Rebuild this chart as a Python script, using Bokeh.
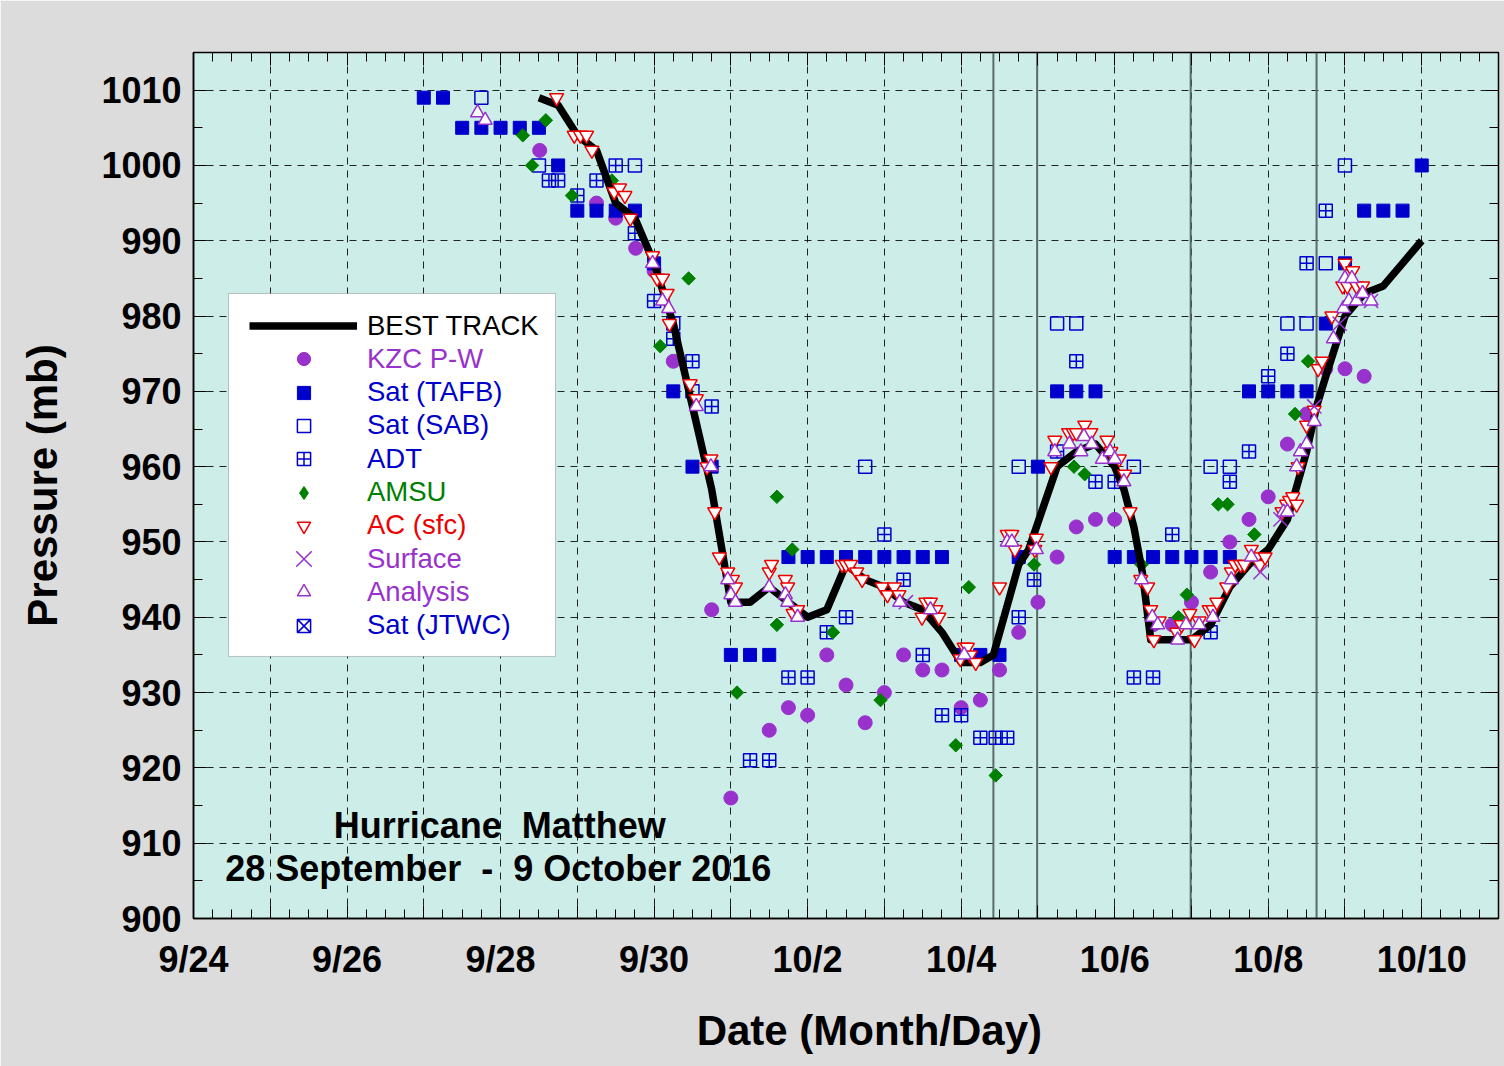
from bokeh.plotting import figure
from bokeh.models import (FixedTicker, LinearAxis, Legend, LegendItem, Label,
                          Span, BoxAnnotation, CustomLabelingPolicy)
from bokeh.embed import file_html
from bokeh.resources import INLINE
import math

NAN = float("nan")

# ---------------- data (x = days since 24 Sep 2016 00 UTC, y = pressure mb) -------------
BT_DAY = [4.5, 4.75, 5.0, 5.25, 5.5, 5.75, 6.0, 6.25, 6.5, 6.75, 7.0, 7.25, 7.5, 7.75,
          8.0, 8.25, 8.5, 8.75, 9.0, 9.25, 9.5, 9.75, 10.0, 10.25, 10.42, 10.75, 10.88,
          11.25, 11.5, 11.75, 12.0, 12.12, 12.25, 12.36, 12.47, 12.75, 13.0, 13.25, 13.5,
          13.75, 14.0, 14.25, 14.5, 14.63, 14.75, 15.0, 15.25, 15.5, 15.75, 16.0]
BT_P = [1009, 1008, 1004, 1002, 995, 993, 987, 979, 968, 957, 942, 942, 944, 942,
        940, 941, 947, 945, 944, 942, 941, 938, 934, 934, 935, 947, 949,
        960, 962, 963, 960, 957, 952, 946, 937, 937, 937, 939, 944,
        947, 949, 953, 962, 968, 972, 980, 983, 984, 987, 990]

KZC_DAY = [4.51, 5.25, 5.5, 5.76, 6.0, 6.25, 6.75, 7.0, 7.5, 7.75, 8.0, 8.25, 8.5, 8.75,
           9.0, 9.25, 9.5, 9.75, 10.0, 10.25, 10.5, 10.75, 11.0, 11.25, 11.5, 11.75, 12.0,
           12.5, 12.75, 13.0, 13.25, 13.5, 13.75, 14.0, 14.25, 14.5, 14.75, 15.0, 15.25]
KZC_P = [1002, 995, 993, 989, 986, 974, 941, 916, 925, 928, 927, 935, 931, 926,
         930, 935, 933, 933, 928, 929, 933, 938, 942, 948, 952, 953, 953,
         939, 939, 942, 946, 950, 953, 956, 963, 967, 973, 973, 972]

TAFB_DAY = [3.0, 3.25, 3.5, 3.75, 4.0, 4.25, 4.5, 4.75, 5.0, 5.25, 5.5, 5.75, 6.0, 6.25,
            6.5, 6.75, 7.0, 7.25, 7.5, 7.75, 8.0, 8.25, 8.5, 8.75, 9.0, 9.25, 9.5, 9.75,
            10.0, 10.25, 10.5, 10.75, 11.0, 11.25, 11.5, 11.75, 12.0, 12.25, 12.5, 12.75,
            13.0, 13.25, 13.5, 13.75, 14.0, 14.25, 14.5, 14.75, 15.0, 15.25, 15.5, 15.75, 16.0]
TAFB_P = [1009, 1009, 1005, 1005, 1005, 1005, 1005, 1000, 994, 994, 994, 994, 987, 970,
          960, 960, 935, 935, 935, 948, 948, 948, 948, 948, 948, 948, 948, 948,
          935, 935, 935, 948, 960, 970, 970, 970, 948, 948, 948, 948,
          948, 948, 948, 970, 970, 970, 970, 979, 987, 994, 994, 994, 1000]

SAB_DAY = [3.75, 4.5, 5.75, 6.25, 6.5, 8.75, 10.75, 11.25, 11.5, 12.25, 13.25, 13.5,
           14.25, 14.5, 14.75, 15.0]
SAB_P = [1009, 1000, 1000, 979, 970, 960, 960, 979, 979, 960, 960, 960,
         979, 979, 987, 1000]

ADT_DAY = [4.63, 4.75, 5.0, 5.25, 5.5, 5.75, 6.0, 6.25, 6.5, 6.75, 7.25, 7.5, 7.75, 8.0,
           8.25, 8.5, 9.0, 9.25, 9.5, 9.75, 10.0, 10.25, 10.45, 10.6, 10.75, 10.95, 11.25,
           11.5, 11.75, 12.0, 12.25, 12.5, 12.75, 13.25, 13.5, 13.75, 14.0, 14.25, 14.5, 14.75]
ADT_P = [998, 998, 996, 998, 1000, 991, 982, 977, 974, 968, 921, 921, 932, 932,
         938, 940, 951, 945, 935, 927, 927, 924, 924, 924, 940, 945, 962,
         974, 958, 958, 932, 932, 951, 938, 958, 962, 972, 975, 987, 994]

AMSU_DAY = [4.29, 4.41, 4.59, 4.93, 5.45, 6.08, 6.45, 7.08, 7.6, 7.6, 7.8, 8.33, 8.95, 9.93,
            10.1, 10.45, 10.95, 11.47, 11.61, 12.35, 12.83, 12.94, 13.35, 13.47, 13.82,
            14.35, 14.52]
AMSU_P = [1004, 1000, 1006, 996, 998, 976, 985, 930, 956, 939, 949, 938, 929, 923,
          944, 919, 947, 960, 959, 947, 940, 943, 955, 955, 951,
          967, 974]

AC_DAY = [4.73, 4.96, 5.04, 5.12, 5.19, 5.48, 5.55, 5.62, 5.69, 5.98, 6.04, 6.11, 6.17, 6.2,
          6.47, 6.55, 6.69, 6.74, 6.79, 6.85, 6.96, 7.02, 7.06, 7.5, 7.53, 7.71, 7.74, 7.81,
          7.87, 8.45, 8.5, 8.56, 8.64, 8.71, 8.97, 9.04, 9.13, 9.19, 9.49, 9.54, 9.6, 9.67,
          9.71, 9.99, 10.04, 10.08, 10.12, 10.19, 10.5, 10.6, 10.66, 10.7, 10.96, 10.98,
          11.17, 11.22, 11.4, 11.46, 11.5, 11.61, 11.69, 11.9, 11.95, 12.06, 12.13, 12.2,
          12.34, 12.43, 12.47, 12.51, 12.58, 12.81, 12.87, 12.98, 13.04, 13.1, 13.23, 13.28,
          13.33, 13.46, 13.52, 13.57, 13.64, 13.69, 13.78, 13.85, 13.89, 13.96, 14.18, 14.24,
          14.28, 14.32, 14.37, 14.39, 14.5, 14.6, 14.65, 14.7, 14.83, 14.97, 15.0, 15.03,
          15.1, 15.15, 15.23]
AC_P = [1009, 1004, 1004, 1004, 1002, 996.5, 997, 996, 993, 988, 985, 985, 983, 979,
        971, 969, 960, 961, 954, 948, 946, 945, 944, 946, 947, 945, 944, 940.5,
        941, 947, 947, 947, 946, 945, 944, 943, 944, 943, 940, 942, 942, 941,
        940, 934.5, 936, 936, 935, 934, 944, 951, 951, 949, 949, 950.5,
        960, 963.5, 964.5, 964.5, 964.5, 965.5, 964.5, 963.5, 962, 961, 959, 954,
        945, 944, 941, 937, 939.5, 938, 939, 940.5, 937, 939.5, 941, 941,
        942, 944, 946, 947, 947, 947, 949, 948, 947, 948, 954, 955,
        955.5, 956, 955, 960, 965.5, 967.5, 973, 974, 980, 984, 987, 984,
        986, 984, 984]

SURF_DAY = [9.28, 13.9, 14.16, 14.6, 14.93, 15.34]
SURF_P = [942, 946, 953, 968, 979, 982]

ANAL_DAY = [3.7, 3.8, 5.98, 6.11, 6.19, 6.55, 6.74, 6.96, 7.0, 7.06, 7.5, 7.71, 7.74, 7.87,
            9.2, 9.6, 10.04, 10.6, 10.66, 10.98, 11.22, 11.41, 11.56, 11.6, 11.7, 11.84,
            11.94, 12.0, 12.12, 12.35, 12.49, 12.56, 12.82, 12.93, 13.1, 13.28, 13.52, 13.78,
            14.2, 14.25, 14.37, 14.42, 14.5, 14.6, 14.85, 14.98, 15.0, 15.05, 15.09, 15.15,
            15.23, 15.34]
ANAL_P = [1007, 1006, 987, 982, 981, 968, 960, 945, 943, 942, 944, 943, 942, 940,
          942, 941, 935, 950, 950, 949, 962, 963, 962, 964, 963, 961,
          962, 961, 958, 945, 940, 939, 937, 939, 939, 940, 945, 948,
          954, 954, 960, 962, 963, 966, 977, 981, 985, 982, 985, 982,
          983, 982]

JTWC_DAY = [NAN]   # no JTWC fixes visible in the chart
JTWC_P = [NAN]

LANDFALL_DAY = [10.42, 10.99, 12.99, 14.63]

X_MAJOR = list(range(0, 18))
XTICK_DAYS = [0, 2, 4, 6, 8, 10, 12, 14, 16]
XTICK_LABELS = ["9/24", "9/26", "9/28", "9/30", "10/2", "10/4", "10/6", "10/8", "10/10"]
Y_TICKS = list(range(900, 1011, 10))

NB = "\u00a0"
TITLE_1 = "Hurricane" + NB + NB + "Matthew"
TITLE_2 = "28 September" + NB + NB + "-" + NB + NB + "9 October 2016"
X_TITLE = NB * 4 + "Date (Month/Day)"   # leading spaces shift the centred title right
Y_TITLE = "Pressure (mb)"

# ---------------- styling ----------------
FONT = "Liberation Sans"
BLUE = "#0000CD"
PURPLE = "#9932CC"
GREEN = "#008000"
RED = "#EE0000"

p = figure(width=1504, height=1066, x_range=(0, 17), y_range=(900, 1015),
           output_backend="svg", toolbar_location=None,
           min_border_left=193, min_border_right=6, min_border_top=52,
           min_border_bottom=148)
p.background_fill_color = "#CCEDE8"
p.border_fill_color = "#DCDCDC"
p.outline_line_color = "black"
p.outline_line_width = 1.5

xticker = FixedTicker(ticks=X_MAJOR, minor_ticks=[i * 0.25 for i in range(0, 69)])
yticker = FixedTicker(ticks=Y_TICKS, minor_ticks=list(range(900, 1016, 5)))

overrides = {d: "" for d in X_MAJOR}
for d, lab in zip(XTICK_DAYS, XTICK_LABELS):
    overrides[d] = lab

xa = p.xaxis[0]
xa.ticker = xticker
xa.major_label_overrides = overrides
ya = p.yaxis[0]
ya.ticker = yticker

for ax in (xa, ya):
    ax.major_tick_in = 13
    ax.major_tick_out = 0
    ax.minor_tick_in = 9
    ax.minor_tick_out = 0
    ax.major_tick_line_color = "black"
    ax.minor_tick_line_color = "black"
    ax.axis_line_color = "black"
    ax.axis_line_width = 1.5
    ax.major_label_text_font = FONT
    ax.major_label_text_font_style = "bold"
    ax.major_label_text_font_size = "36px"
    ax.major_label_text_color = "black"
    ax.axis_label_text_font = FONT
    ax.axis_label_text_font_style = "bold"
    ax.axis_label_text_font_size = "42px"
    ax.axis_label_text_color = "black"

xa.axis_label = X_TITLE
xa.major_label_standoff = 20
xa.axis_label_standoff = 24
ya.axis_label = Y_TITLE
ya.major_label_standoff = 12
ya.axis_label_standoff = 32

no_labels = CustomLabelingPolicy(code="for (const i of indices) indices.unset(i)")
for tk, place in ((xticker, "above"), (yticker, "right")):
    ax = LinearAxis(ticker=tk, major_label_policy=no_labels, major_tick_in=13,
                    major_tick_out=0, minor_tick_in=9, minor_tick_out=0,
                    major_label_standoff=0, major_label_text_font_size="1px",
                    axis_line_color="black")
    p.add_layout(ax, place)

for g, tk in ((p.xgrid[0], xticker), (p.ygrid[0], yticker)):
    g.ticker = tk
    g.grid_line_color = "black"
    g.grid_line_dash = "7 6"
    g.grid_line_width = 1
    g.grid_line_alpha = 0.85

for d in LANDFALL_DAY:
    p.add_layout(Span(location=d, dimension="height", line_color="#5a6a68",
                      line_width=2, level="underlay"))

r_kzc = p.scatter(KZC_DAY, KZC_P, marker="circle", size=14, fill_color=PURPLE,
                  line_color=PURPLE)
r_tafb = p.scatter(TAFB_DAY, TAFB_P, marker="square", size=13, fill_color=BLUE,
                   line_color=BLUE)
r_sab = p.scatter(SAB_DAY, SAB_P, marker="square", size=13, fill_color=None,
                  line_color=BLUE, line_width=1.5)
r_adt = p.scatter(ADT_DAY, ADT_P, marker="square_cross", size=13, fill_color=None,
                  line_color=BLUE, line_width=1.5)
r_amsu = p.scatter(AMSU_DAY, AMSU_P, marker="square", size=9.5, angle=math.pi / 4,
                   fill_color=GREEN, line_color=GREEN)
# symbol used only for the legend row of AMSU (no data points)
r_amsu_key = p.scatter([NAN], [NAN], marker="diamond", size=14, fill_color=GREEN,
                       line_color=GREEN)
r_bt = p.line(BT_DAY, BT_P, line_width=7.5, line_color="black", line_join="round")
r_ac = p.scatter(AC_DAY, AC_P, marker="inverted_triangle", size=14, fill_color="white",
                 line_color=RED, line_width=1.5)
r_surf = p.scatter(SURF_DAY, SURF_P, marker="x", size=20, line_color=PURPLE, line_width=1.5)
r_anal = p.scatter(ANAL_DAY, ANAL_P, marker="triangle", size=14, fill_color="white",
                   line_color=PURPLE, line_width=1.5)
r_jtwc = p.scatter(JTWC_DAY, JTWC_P, marker="square_x", size=13, fill_color=None,
                   line_color=BLUE, line_width=1.5)

# legend box, in data units (frame: left 193 px, 76.76 px/day; top 52 px, 7.53 px/mb)
p.add_layout(BoxAnnotation(left=0.456, right=4.716, top=983.0, bottom=934.8,
                           fill_color="white", fill_alpha=1.0,
                           line_color="#444444", line_width=1, level="annotation"))

FRAME_L, FRAME_B = 193, 918
LEG_ROWS = [
    ("BEST TRACK", r_bt, "black", None, 33),
    ("KZC P-W", r_kzc, PURPLE, 33, 33),
    ("Sat (TAFB)", r_tafb, BLUE, 33, 33),
    ("Sat (SAB)", r_sab, BLUE, 33, 33),
    ("ADT", r_adt, BLUE, 33, 33),
    ("AMSU", r_amsu_key, GREEN, 33, 33),
    ("AC (sfc)", r_ac, RED, 33, 33),
    ("Surface", r_surf, PURPLE, 55, 55),
    ("Analysis", r_anal, PURPLE, 33, 33),
    ("Sat (JTWC)", r_jtwc, BLUE, 33, 33),
]
for i, (lab, rend, col, gw, gh) in enumerate(LEG_ROWS):
    yc = 325.5 + 33.3 * i
    if gw is None:
        x0, gw = 249, 108
    else:
        x0 = 303.5 - gw / 2
    vx = x0 - FRAME_L
    vy = FRAME_B - yc - gh / 2
    leg = Legend(items=[LegendItem(label=lab, renderers=[rend])], location=(vx, vy),
                 glyph_width=int(gw), glyph_height=int(gh), label_height=int(gh),
                 label_standoff=int(367 - (x0 + gw)), padding=0, margin=0, spacing=0,
                 border_line_color=None, background_fill_alpha=0,
                 label_text_color=col, label_text_font=FONT,
                 label_text_font_size="27.5px")
    p.add_layout(leg)

p.add_layout(Label(x=3.99, y=912.3, text=TITLE_1, text_align="center",
                   text_baseline="middle", text_font=FONT, text_font_style="bold",
                   text_font_size="36px", text_color="black"))
p.add_layout(Label(x=3.97, y=906.6, text=TITLE_2, text_align="center",
                   text_baseline="middle", text_font=FONT, text_font_style="bold",
                   text_font_size="36px", text_color="black"))

open("out.html", "w").write(file_html(p, INLINE))
